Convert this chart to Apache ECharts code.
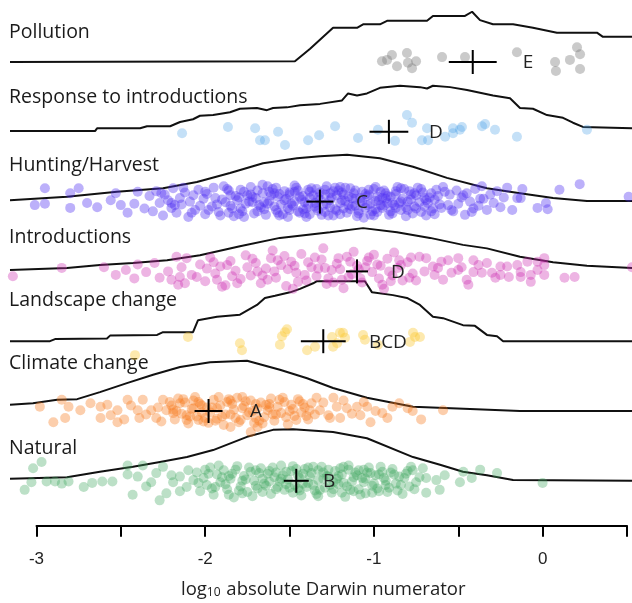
<!DOCTYPE html>
<html>
<head>
<meta charset="utf-8">
<script src="https://cdn.jsdelivr.net/npm/echarts@6/dist/echarts.min.js"></script>
<style>
  html, body { margin: 0; padding: 0; background: #fff; }
  #chart { width: 632px; height: 603px; }
</style>
</head>
<body>
<div id="chart"></div>
<script>
var chart = echarts.init(document.getElementById('chart'));

// categories, top to bottom
var categories = ['Pollution', 'Response to introductions', 'Hunting/Harvest', 'Introductions',
                  'Landscape change', 'Climate change', 'Natural'];

// group letters and means with half widths of the cross
var letters = ['E', 'D', 'C', 'D', 'BCD', 'A', 'B'];
var means = [-0.414, -0.911, -1.32, -1.10, -1.30, -1.98, -1.46];
var halfWidths = [0.142, 0.115, 0.08, 0.065, 0.133, 0.083, 0.074];
var letterX = [-0.087, -0.632, -1.071, -0.857, -0.917, -1.699, -1.266];

// density outlines: [log10 numerator, height above the row baseline]
var pollutionDensity = [[-3.157,0],[-1.468,0.01],[-1.378,0.19],[-1.242,0.49],[-1.100,0.49],[-1.064,0.54],[-0.964,0.54],
  [-0.922,0.59],[-0.685,0.59],[-0.650,0.66],[-0.460,0.66],[-0.418,0.72],[-0.371,0.60],[-0.294,0.54],[-0.175,0.54],
  [-0.057,0.49],[0.085,0.42],[0.322,0.42],[0.358,0.36],[0.530,0.36]];
var responseDensity = [[-3.157,0.01],[-2.653,0.01],[-2.641,0.05],[-2.386,0.05],[-2.345,0.08],[-2.208,0.08],[-2.149,0.14],
  [-2.072,0.18],[-2.031,0.23],[-1.953,0.24],[-1.853,0.28],[-1.794,0.33],[-1.693,0.34],[-1.634,0.31],[-1.598,0.34],
  [-1.515,0.35],[-1.438,0.38],[-1.319,0.40],[-1.189,0.45],[-1.153,0.55],[-1.100,0.52],[-1.041,0.55],[-0.964,0.63],
  [-0.845,0.66],[-0.727,0.64],[-0.685,0.62],[-0.650,0.66],[-0.549,0.64],[-0.448,0.60],[-0.294,0.52],[-0.193,0.48],
  [-0.134,0.34],[-0.057,0.33],[0.026,0.24],[0.121,0.20],[0.180,0.13],[0.239,0.07],[0.530,0.05]];
var huntingDensity = [[-3.157,0.02],[-2.819,0.07],[-2.523,0.14],[-2.250,0.19],[-2.049,0.28],[-1.853,0.41],[-1.657,0.55],
  [-1.456,0.62],[-1.319,0.65],[-1.159,0.67],[-0.964,0.62],[-0.768,0.50],[-0.567,0.34],[-0.330,0.19],[-0.134,0.12],
  [0.062,0.05],[0.263,0.01],[0.530,0.01]];
var introDensity = [[-3.157,0.02],[-2.819,0.05],[-2.624,0.09],[-2.428,0.12],[-2.226,0.16],[-2.031,0.23],[-1.794,0.36],
  [-1.557,0.48],[-1.260,0.56],[-1.064,0.62],[-0.863,0.56],[-0.667,0.48],[-0.472,0.38],[-0.330,0.33],[-0.134,0.21],
  [0.062,0.13],[0.263,0.08],[0.530,0.05]];
var landscapeDensity = [[-3.157,0],[-2.920,0],[-2.890,0.03],[-2.582,0.04],[-2.564,0.08],[-2.285,0.09],[-2.250,0.13],
  [-2.072,0.13],[-2.043,0.30],[-1.930,0.35],[-1.794,0.38],[-1.693,0.52],[-1.646,0.62],[-1.586,0.65],[-1.497,0.70],
  [-1.438,0.75],[-1.360,0.83],[-1.337,0.86],[-1.053,0.86],[-1.011,0.70],[-0.887,0.66],[-0.804,0.62],[-0.727,0.52],
  [-0.650,0.35],[-0.590,0.33],[-0.472,0.23],[-0.401,0.22],[-0.330,0.09],[-0.270,0.07],[-0.234,0],[0.530,0]];
var climateDensity = [[-3.157,0.09],[-3.021,0.11],[-2.878,0.16],[-2.759,0.17],[-2.624,0.27],[-2.464,0.40],[-2.309,0.52],
  [-2.149,0.63],[-1.971,0.70],[-1.752,0.72],[-1.557,0.59],[-1.396,0.47],[-1.242,0.33],[-1.041,0.19],[-0.768,0.06],
  [-0.430,0.03],[-0.134,0],[0.530,0]];
var naturalDensity = [[-3.157,0.03],[-2.819,0.05],[-2.624,0.13],[-2.428,0.20],[-2.268,0.27],[-2.108,0.34],[-1.953,0.44],
  [-1.752,0.63],[-1.598,0.73],[-1.479,0.74],[-1.242,0.70],[-1.041,0.61],[-0.768,0.34],[-0.608,0.23],[-0.472,0.13],
  [-0.330,0.08],[-0.175,0.01],[0.530,0]];

// observations: [log10 numerator, vertical jitter]
var pollutionPts = [[-0.952,0.01],[-0.922,0.03],[-0.893,0.10],[-0.863,-0.06],[-0.804,0.13],[-0.798,-0.01],[-0.774,-0.09],
  [-0.750,0.01],[-0.596,0.07],[-0.460,0.07],[-0.152,0.14],[0.074,0.00],[0.079,-0.13],[0.162,0.03],[0.204,0.21],
  [0.222,0.11],[0.222,-0.10]];
var responsePts = [[-2.137,-0.02],[-1.865,0.07],[-1.704,0.05],[-1.675,-0.12],[-1.646,-0.12],[-1.568,0.00],[-1.527,-0.19],
  [-1.390,-0.12],[-1.325,-0.05],[-1.230,0.08],[-1.094,-0.09],[-0.976,0.03],[-0.875,-0.13],[-0.804,0.24],[-0.774,0.13],
  [-0.715,-0.12],[-0.679,-0.12],[-0.685,0.05],[-0.578,-0.07],[-0.531,0.05],[-0.531,-0.02],[-0.490,0.03],[-0.478,0.07],
  [-0.359,0.08],[-0.341,0.11],[-0.282,0.03],[-0.152,-0.07],[0.263,0.03]];
var huntingPts = [[-2.95,0.19],[-3.01,-0.05],[-2.95,-0.03],[-2.80,0.12],[-2.80,-0.09],[-2.75,0.19],[-2.70,-0.02],
  [-2.64,-0.08],[-2.56,0.02],[-2.53,0.12],[-2.50,-0.05],[-2.46,-0.16],
  [-2.33,0.08],[-2.31,-0.14],[-2.29,0.15],[-2.27,-0.02],[-2.25,-0.2],[-2.24,0.1],[-2.22,0.02],[-2.2,-0.09],[-2.19,0.19],
  [-2.17,-0.16],[-2.15,0.05],[-2.14,-0.04],[-2.12,0.13],[-2.1,-0.22],[-2.09,0.0],[-2.07,0.09],[-2.06,-0.12],[-2.04,0.17],
  [-2.03,-0.06],[-2.01,0.04],[-2.0,-0.18],[-2.36,-0.1],[-2.4,0.14],[-2.42,-0.03],
  [-1.99,0.11],[-1.96,-0.07],[-1.95,0.2],[-1.92,-0.15],[-1.9,0.03],[-1.88,-0.01],[-1.86,0.16],[-1.83,-0.21],[-1.82,0.08],
  [-1.79,-0.1],[-1.77,0.14],[-1.76,-0.03],[-1.73,0.21],[-1.71,-0.17],[-1.7,0.05],[-1.67,-0.08],[-1.66,0.12],[-1.64,-0.19],
  [-1.62,0.01],[-1.6,0.18],[-1.58,-0.12],[-1.57,0.07],[-1.55,-0.04],[-1.53,0.15],[-1.51,-0.22],[-1.5,0.1],[-1.48,-0.06],
  [-1.46,0.2],[-1.45,-0.14],[-1.43,0.03],[-1.41,-0.01],[-1.39,0.17],[-1.38,-0.18],[-1.36,0.09],[-1.34,-0.09],[-1.32,0.13],
  [-1.3,-0.05],[-1.28,0.22],[-1.27,-0.2],[-1.25,0.06],[-1.23,-0.11],[-1.21,0.16],[-1.2,-0.02],[-1.18,0.1],[-1.16,-0.16],
  [-1.14,0.19],[-1.13,-0.07],[-1.11,0.04],[-1.09,-0.13],[-1.07,0.14],[-1.06,-0.23],[-1.04,0.08],[-1.02,-0.03],[-1.0,0.18],
  [-0.98,-0.15],[-0.97,0.02],[-0.95,-0.09],[-0.93,0.12],[-0.91,-0.19],[-0.9,0.07],[-0.88,-0.05],[-0.86,0.21],[-0.84,-0.12],
  [-0.83,0.04],[-0.81,-0.08],[-0.79,0.15],[-0.77,-0.17],[-0.75,0.09],[-0.73,-0.01],[-0.71,0.13],[-0.69,-0.2],[-0.67,0.06],
  [-0.65,-0.1],[-0.63,0.17],[-0.61,-0.04],
  [-1.98,-0.12],[-1.94,0.05],[-1.91,-0.2],[-1.87,0.18],[-1.85,-0.06],[-1.81,0.02],[-1.78,-0.14],[-1.75,0.09],[-1.72,-0.01],
  [-1.69,0.16],[-1.65,-0.11],[-1.63,0.22],[-1.59,-0.07],[-1.56,0.11],[-1.54,-0.18],[-1.52,0.04],[-1.49,-0.03],[-1.47,0.14],
  [-1.44,-0.16],[-1.42,0.08],[-1.4,-0.1],[-1.37,0.19],[-1.35,-0.02],[-1.33,0.06],[-1.31,-0.19],[-1.29,0.1],[-1.26,-0.08],
  [-1.24,0.15],[-1.22,-0.13],[-1.19,0.02],[-1.17,0.2],[-1.15,-0.05],[-1.12,0.12],[-1.1,-0.21],[-1.08,0.05],[-1.05,-0.09],
  [-1.03,0.17],[-1.01,-0.14],[-0.99,0.01],[-0.96,0.14],[-0.94,-0.06],[-0.92,0.08],[-0.89,-0.17],[-0.87,0.11],[-0.85,-0.02],
  [-0.82,0.18],[-0.8,-0.12],[-0.78,0.03],[-0.76,-0.07],[-0.74,0.2],[-0.72,-0.15],[-0.7,0.05],[-0.68,-0.02],[-0.66,0.12],
  [-0.64,-0.18],[-0.62,0.08],[-0.6,-0.09],[-0.58,0.14],[-0.56,-0.05],
  [-1.74,0.0],[-1.68,-0.05],[-1.61,0.09],[-1.57,-0.16],[-1.5,0.13],[-1.47,0.0],[-1.42,-0.11],[-1.38,0.05],[-1.33,-0.13],
  [-1.29,0.17],[-1.26,0.02],[-1.22,0.09],[-1.18,-0.1],[-1.15,0.07],[-1.11,-0.06],[-1.07,0.0],[-1.03,0.1],[-0.99,-0.11],
  [-0.95,0.05],[-0.92,-0.02],[-1.85,0.09],[-1.8,-0.18],[-1.62,0.14],[-1.4,-0.22],[-1.2,0.21],[-1.0,-0.2],[-0.87,-0.09],
  [-1.89,0.22],[-1.84,-0.1],[-1.8,0.06],[-1.77,-0.22],[-1.73,0.1],[-1.69,-0.14],[-1.66,0.24],[-1.63,-0.03],[-1.59,0.12],
  [-1.56,-0.2],[-1.53,0.02],[-1.5,-0.12],[-1.47,0.23],[-1.44,0.07],[-1.41,-0.17],[-1.38,0.14],[-1.35,-0.07],[-1.32,0.03],
  [-1.29,-0.15],[-1.26,0.12],[-1.23,0.2],[-1.2,-0.18],[-1.17,0.01],[-1.14,-0.11],[-1.11,0.16],[-1.08,-0.01],[-1.05,0.11],
  [-1.02,-0.19],[-0.99,0.21],[-0.96,-0.05],[-0.93,0.04],[-0.9,-0.14],[-0.87,0.15],[-0.84,0.0],[-0.81,-0.21],[-0.78,0.1],
  [-0.75,-0.1],[-0.72,0.18],[-0.69,0.02],[-0.66,-0.14],
  [-2.0,0.14],[-1.93,-0.04],[-1.86,-0.16],[-1.79,0.17],[-1.72,0.07],[-1.65,-0.01],[-1.58,0.2],[-1.51,-0.09],[-1.45,0.16],
  [-1.39,-0.04],[-1.34,0.18],[-1.28,-0.03],[-1.24,-0.2],[-1.19,0.13],[-1.13,0.05],[-1.09,-0.17],[-1.04,-0.05],[-0.98,0.07],
  [-0.94,0.16],[-0.89,-0.02],[-0.84,0.19],[-0.8,0.0],[-0.76,0.12],[-0.7,-0.07],[-0.64,0.03],[-0.59,0.21],[-0.54,-0.12],
  [-0.47,0.09],[-0.42,-0.15],[-0.37,0.04],[-2.2,-0.02],[-2.13,0.2],[-2.08,-0.16],[-2.26,0.12],[-2.18,-0.05],
  [-0.55,0.1],[-0.53,-0.14],[-0.51,0.16],[-0.5,-0.03],[-0.48,0.06],[-0.46,-0.19],[-0.45,0.12],[-0.43,0.0],[-0.41,-0.1],
  [-0.4,0.18],[-0.38,-0.06],[-0.36,0.22],[-0.35,0.04],[-0.33,-0.12],[-0.31,0.1],[-0.29,-0.02],[-0.27,0.15],[-0.25,-0.08],
  [-0.23,0.06],[-0.21,0.2],[-0.15,0.05],[-0.13,0.05],[-0.12,0.18],[-0.03,-0.09],[0.02,-0.02],[0.03,-0.11],[0.10,0.17],
  [0.22,0.25],[0.51,0.07],[-0.18,-0.12]];
var introPts = [[-3.14,-0.07],[-2.85,0.05],[-2.6,0.06],[-2.53,-0.05],[-2.47,0.02],[-2.42,-0.1],[-2.35,-0.01],[-2.3,0.12],
  [-2.27,-0.09],[-2.22,0.0],[-2.17,0.21],[-2.14,0.06],[-2.15,-0.08],[-2.16,-0.19],[-2.12,-0.17],[-2.11,0.19],[-2.08,-0.05],
  [-2.05,-0.08],
  [-2.03,0.1],[-2.0,-0.14],[-1.97,0.2],[-1.94,-0.03],[-1.91,0.07],[-1.88,-0.2],[-1.85,0.15],[-1.82,0.01],[-1.79,-0.11],
  [-1.76,0.23],[-1.73,-0.06],[-1.7,0.12],[-1.67,-0.17],[-1.64,0.04],[-1.61,0.19],[-1.58,-0.09],[-1.55,0.09],[-1.52,-0.21],
  [-1.49,0.14],[-1.46,-0.02],[-1.43,0.25],[-1.4,-0.13],[-1.37,0.06],[-1.34,-0.07],[-1.31,0.17],[-1.28,-0.18],[-1.25,0.02],
  [-1.22,0.11],[-1.19,-0.12],[-1.16,0.21],[-1.13,-0.04],[-1.1,0.08],[-1.07,-0.16],[-1.04,0.15],[-1.01,-0.01],[-0.98,0.1],
  [-0.95,-0.19],[-0.92,0.18],[-0.89,-0.06],[-0.86,0.05],[-0.83,-0.13],[-0.8,0.13],[-0.77,-0.03],
  [-1.99,0.04],[-1.93,-0.12],[-1.87,0.09],[-1.81,-0.17],[-1.75,0.06],[-1.69,0.0],[-1.63,-0.12],[-1.57,0.16],[-1.51,0.03],
  [-1.45,-0.15],[-1.39,0.13],[-1.33,0.04],[-1.27,-0.1],[-1.21,0.19],[-1.15,-0.08],[-1.09,0.03],[-1.03,0.2],[-0.97,-0.1],
  [-0.91,0.0],[-0.85,0.16],[-0.79,-0.09],[-1.6,0.3],[-1.3,0.33],[-1.12,0.28],[-0.88,0.27],[-1.48,-0.25],[-1.18,-0.24],
  [-0.94,-0.25],
  [-1.95,0.13],[-1.84,-0.07],[-1.72,0.18],[-1.66,-0.06],[-1.59,0.0],[-1.53,0.22],[-1.47,0.08],[-1.41,-0.05],[-1.35,0.2],
  [-1.29,0.05],[-1.24,-0.16],[-1.2,0.03],[-1.14,0.14],[-1.08,-0.1],[-1.05,0.06],[-1.0,0.24],[-0.96,0.08],[-0.9,-0.14],
  [-0.84,0.09],[-0.78,0.2],[-0.75,-0.13],[-0.7,0.0],[-0.6,0.14],[-0.48,0.06],[-0.33,0.12],[-2.2,-0.12],[-2.4,0.1],[-1.9,-0.22],
  [-0.73,0.21],[-0.69,0.19],[-0.65,0.07],[-0.62,0.05],[-0.64,-0.05],[-0.59,-0.12],[-0.56,0.16],[-0.54,-0.02],[-0.50,0.19],
  [-0.50,0.02],[-0.45,-0.12],[-0.44,-0.19],[-0.41,0.16],[-0.41,-0.01],[-0.38,0.09],[-0.36,-0.02],[-0.30,-0.02],[-0.28,-0.09],
  [-0.25,0.07],[-0.25,-0.05],[-0.21,0.07],[-0.20,-0.08],[-0.15,0.09],[-0.13,-0.01],[-0.13,-0.08],[-0.09,0.14],[-0.07,-0.05],
  [-0.07,-0.15],[-0.03,0.14],[-0.03,0.02],[0.01,0.19],[0.01,0.09],[0.01,-0.05],[0.13,-0.09],[0.19,-0.08],[0.53,0.06]];
var landscapePts = [[-2.416,-0.20],[-2.102,0.06],[-1.794,-0.03],[-1.782,-0.13],[-1.557,-0.05],[-1.545,0.07],[-1.527,0.13],
  [-1.515,0.17],[-1.396,-0.13],[-1.349,-0.08],[-1.248,0.06],[-1.218,-0.03],[-1.201,0.12],[-1.183,0.12],[-1.242,-0.08],
  [-1.171,0.05],[-1.064,0.09],[-1.053,0.02],[-0.976,-0.05],[-0.786,-0.01],[-0.768,0.12],[-0.756,0.06],[-0.727,0.06]];
var climatePts = [[-2.98,0.06],[-2.90,-0.16],[-2.85,0.16],[-2.83,-0.1],[-2.81,0.06],[-2.74,0.01],[-2.68,0.11],[-2.62,0.06],
  [-2.62,-0.1],[-2.58,0.09],[-2.56,-0.06],[-2.52,0.01],[-2.52,-0.16],[-2.46,0.16],[-2.40,0.01],[-2.39,-0.1],[-2.37,0.16],
  [-2.32,0.01],[-2.29,-0.1],[-2.25,0.16],[-2.23,0.01],[-2.19,-0.03],[-2.15,0.11],[-2.11,-0.06],[-2.07,0.04],[-2.04,-0.13],
  [-2.28,0.05],[-2.35,-0.05],[-2.44,0.08],[-2.48,-0.12],[-2.26,-0.15],[-2.21,0.13],
  [-2.2,0.08],[-2.18,-0.12],[-2.16,0.18],[-2.14,-0.04],[-2.12,0.12],[-2.1,-0.18],[-2.08,0.03],[-2.06,0.2],[-2.05,-0.08],
  [-2.03,0.1],[-2.01,-0.15],[-1.99,0.05],[-1.97,-0.02],[-1.95,0.16],[-1.93,-0.11],[-1.91,0.08],[-1.89,-0.2],[-1.87,0.13],
  [-1.85,-0.05],[-1.83,0.02],[-1.81,0.19],[-1.79,-0.13],[-1.77,0.07],[-1.75,-0.06],[-1.73,0.15],[-1.71,-0.17],[-1.69,0.04],
  [-1.67,0.12],[-1.65,-0.09],[-1.63,0.01],[-1.61,0.18],[-1.59,-0.14],[-1.57,0.06],[-1.55,-0.03],[-1.53,0.13],[-1.51,-0.19],
  [-1.49,0.09],[-1.47,-0.07],[-1.45,0.17],[-1.43,-0.02],[-1.41,0.05],[-1.39,-0.12],[-1.37,0.11],[-1.35,-0.05],
  [-2.19,0.02],[-2.13,0.17],[-2.09,-0.08],[-2.04,0.13],[-2.0,-0.1],[-1.96,0.05],[-1.92,0.2],[-1.88,-0.05],[-1.84,0.1],
  [-1.8,-0.16],[-1.76,0.14],[-1.72,0.0],[-1.68,-0.14],[-1.64,0.09],[-1.6,-0.05],[-1.56,0.16],[-1.52,-0.09],[-1.48,0.03],
  [-1.44,0.14],[-1.4,-0.07],[-2.02,-0.02],[-1.94,-0.14],[-1.86,0.17],[-1.78,0.04],[-1.7,-0.1],[-1.62,0.1],
  [-2.17,0.0],[-2.11,-0.13],[-2.07,0.15],[-2.02,0.08],[-1.98,-0.17],[-1.93,0.04],[-1.9,-0.08],[-1.85,0.15],[-1.82,-0.1],
  [-1.78,0.2],[-1.74,-0.02],[-1.7,0.1],[-1.66,-0.18],[-1.62,0.05],[-1.58,-0.05],[-1.54,0.19],[-1.5,0.0],[-1.46,-0.13],
  [-1.42,0.1],[-1.38,0.01],
  [-1.85,-0.23],[-1.73,-0.3],[-1.69,-0.23],
  [-1.34,0.19],[-1.32,0.01],[-1.27,-0.06],[-1.24,0.19],[-1.22,0.06],[-1.20,-0.1],[-1.16,0.04],[-1.10,0.06],[-1.08,-0.06],
  [-1.04,0.06],[-1.02,-0.16],[-0.95,-0.03],[-0.89,0.06],[-0.80,0.04],[-1.3,0.12],[-1.26,-0.1],[-1.18,0.15],[-1.13,-0.04],
  [-1.06,0.13],[-0.99,0.0],[-0.92,-0.1],[-0.85,0.11],[-0.77,0.0],[-0.72,-0.12],[-0.59,0.01]];
var naturalPts = [[-3.02,0.18],[-3.07,-0.13],[-3.03,-0.02],[-2.97,0.27],[-2.94,-0.01],[-2.89,-0.01],[-2.85,-0.04],
  [-2.81,-0.01],[-2.72,-0.09],[-2.67,-0.03],[-2.61,-0.01],[-2.55,-0.01],[-2.46,0.09],[-2.46,0.22],[-2.40,0.06],[-2.43,-0.2],
  [-2.37,0.22],[-2.32,-0.02],[-2.29,0.11],[-2.27,-0.28],[-2.23,-0.18],[-2.19,-0.02],[-2.15,0.06],[-2.11,-0.09],[-2.07,0.01],
  [-2.05,0.12],[-2.03,-0.15],[-2.01,0.04],[-1.99,-0.06],[-1.97,0.19],[-1.95,-0.2],[-1.93,0.09],[-1.91,-0.02],[-1.89,0.15],
  [-1.87,-0.12],[-1.85,0.03],[-1.83,-0.24],[-1.81,0.21],[-1.79,-0.08],[-1.77,0.07],[-1.75,-0.16],[-1.73,0.13],[-1.71,0.0],
  [-1.69,-0.11],[-1.67,0.18],[-1.65,-0.04],[-1.63,0.1],[-1.61,-0.19],[-1.59,0.05],[-1.57,-0.09],[-1.55,0.22],[-1.53,-0.13],
  [-1.51,0.02],[-1.49,0.14],[-1.47,-0.06],[-1.45,0.08],[-1.43,-0.21],[-1.41,0.17],[-1.39,-0.03],[-1.37,0.11],[-1.35,-0.14],
  [-1.33,0.01],[-1.31,0.2],[-1.29,-0.1],[-1.27,0.06],[-1.25,-0.17],[-1.23,0.14],[-1.21,-0.05],[-1.19,0.09],[-1.17,-0.23],
  [-1.15,0.16],[-1.13,-0.01],[-1.11,0.12],[-1.09,-0.12],[-1.07,0.04],[-1.05,-0.18],[-1.03,0.19],[-1.01,-0.07],[-0.99,0.08],
  [-0.97,-0.15],[-0.95,0.13],[-0.93,0.0],[-0.91,-0.1],[-0.89,0.17],[-0.87,-0.04],[-0.85,0.06],[-0.83,-0.19],[-0.81,0.1],
  [-0.79,-0.08],[-0.77,0.15],[-0.75,-0.02],
  [-2.04,-0.03],[-2.0,0.16],[-1.96,-0.11],[-1.92,0.22],[-1.88,-0.05],[-1.84,0.1],[-1.8,-0.14],[-1.76,0.02],[-1.72,-0.22],
  [-1.68,0.11],[-1.64,-0.07],[-1.6,0.19],[-1.56,-0.01],[-1.52,0.13],[-1.48,-0.17],[-1.44,0.04],[-1.4,-0.09],[-1.36,0.2],
  [-1.32,-0.13],[-1.28,0.07],[-1.24,-0.02],[-1.2,0.18],[-1.16,-0.08],[-1.12,0.05],[-1.08,-0.2],[-1.04,0.12],[-1.0,-0.04],
  [-0.96,0.2],[-0.92,-0.16],[-0.88,0.09],[-0.84,-0.06],[-0.8,0.14],[-0.76,-0.12],[-0.73,0.05],
  [-1.86,0.07],[-1.78,-0.18],[-1.7,0.15],[-1.62,-0.01],[-1.58,0.12],[-1.5,-0.1],[-1.46,0.17],[-1.42,-0.04],[-1.38,0.06],
  [-1.34,-0.19],[-1.3,0.12],[-1.26,-0.06],[-1.22,0.03],[-1.18,0.2],[-1.14,-0.13],[-1.1,0.08],[-1.06,-0.02],[-1.02,0.11],
  [-0.98,-0.11],[-0.94,0.04],[-1.66,0.03],[-1.54,0.08],[-1.44,-0.14],[-1.33,0.15],[-1.19,-0.17],[-1.06,0.16],
  [-1.98,0.1],[-1.94,-0.09],[-1.9,0.05],[-1.86,-0.2],[-1.82,0.16],[-1.78,0.0],[-1.74,0.19],[-1.7,-0.07],[-1.66,-0.16],
  [-1.62,0.14],[-1.58,-0.12],[-1.55,0.03],[-1.52,-0.05],[-1.48,0.21],[-1.45,-0.11],[-1.42,0.1],[-1.39,0.19],[-1.36,-0.06],
  [-1.33,-0.22],[-1.3,0.03],[-1.27,0.16],[-1.24,-0.12],[-1.21,0.07],[-1.18,-0.03],[-1.15,0.22],[-1.12,-0.15],[-1.09,0.15],
  [-1.05,0.03],[-1.01,-0.17],[-0.97,0.09],[-0.93,-0.06],[-0.9,0.12],[-0.86,-0.14],[-0.82,0.04],[-0.78,0.2],[-2.1,0.15],
  [-2.15,-0.15],[-2.2,0.08],[-2.25,0.2],[-2.35,-0.08],
  [-0.71,0.18],[-0.69,0.04],[-0.69,-0.17],[-0.63,0.01],[-0.61,-0.13],[-0.58,0.08],[-0.49,-0.02],[-0.47,0.13],[-0.42,0.04],
  [-0.37,0.16],[-0.27,0.11],[0.0,-0.03]];

var densities = [pollutionDensity, responseDensity, huntingDensity, introDensity, landscapeDensity, climateDensity, naturalDensity];
var points = [pollutionPts, responsePts, huntingPts, introPts, landscapePts, climatePts, naturalPts];

var pointColors = ['rgba(123,123,123,0.5)', 'rgba(73,158,230,0.4)', 'rgba(80,50,242,0.48)', 'rgba(205,43,175,0.44)',
                   'rgba(251,199,53,0.5)', 'rgba(246,122,31,0.46)', 'rgba(65,167,95,0.44)'];
// label centres (pixels) for the row names
var labelY = [32, 97, 165, 237, 300, 363, 448];
var FONT = 'Open Sans';

function rowOf(i) { return categories.length - 1 - i; }

var series = [];
densities.forEach(function (d, i) {
    var row = rowOf(i);
    series.push({
        type: 'line',
        data: d.map(function (p) { return [p[0], row + p[1]]; }),
        showSymbol: false,
        clip: false,
        silent: true,
        lineStyle: { color: '#111', width: 2 },
        z: 2
    });
});
points.forEach(function (pts, i) {
    var row = rowOf(i);
    series.push({
        type: 'scatter',
        data: pts.map(function (p) { return [p[0], row + p[1]]; }),
        symbolSize: 10,
        clip: false,
        silent: true,
        itemStyle: { color: pointColors[i] },
        z: 3
    });
});
series.push({
    type: 'custom',
    z: 5,
    silent: true,
    data: categories.map(function (c, i) { return [means[i], halfWidths[i], rowOf(i), letterX[i], i]; }),
    renderItem: function (params, api) {
        var m = api.value(0), hw = api.value(1), row = api.value(2), lx = api.value(3), idx = api.value(4);
        var c = api.coord([m, row]);
        var l = api.coord([m - hw, row]);
        var r = api.coord([m + hw, row]);
        var t = api.coord([lx, row]);
        return {
            type: 'group',
            children: [
                { type: 'line', shape: { x1: l[0], y1: c[1], x2: r[0], y2: c[1] }, style: { stroke: '#000', lineWidth: 2 } },
                { type: 'line', shape: { x1: c[0], y1: c[1] - 12, x2: c[0], y2: c[1] + 12 }, style: { stroke: '#000', lineWidth: 2 } },
                { type: 'text', x: t[0], y: t[1] + 1, style: { text: letters[idx], fill: '#222', font: '19px ' + FONT, align: 'center', verticalAlign: 'middle' } }
            ]
        };
    }
});

var graphics = categories.map(function (c, i) {
    return {
        type: 'text', x: 9, y: labelY[i],
        style: { text: c, fill: '#1a1a1a', font: '19.5px ' + FONT, verticalAlign: 'middle' }
    };
});
graphics.push({
    type: 'text', left: 181, top: 576,
    style: {
        text: 'log{s|10} absolute Darwin numerator',
        fill: '#222', font: '18.5px ' + FONT,
        rich: { s: { fontSize: 12, fontFamily: FONT, fill: '#222', verticalAlign: 'bottom', lineHeight: 14, padding: [11, 1, 0, 0] } }
    }
});

// grid 0 holds the marks (x runs a little past the axis ends), grid 1 draws the axis from -3 to 0.5
var option = {
    animation: false,
    grid: [
        { left: 10, right: 0, top: 27.1, bottom: 87.3 },
        { left: 36.5, right: 5, top: 27.1, bottom: 87.3 }
    ],
    xAxis: [
        { type: 'value', gridIndex: 0, min: -3.157, max: 0.53, show: false },
        {
            type: 'value', gridIndex: 1, min: -3, max: 0.5, interval: 0.5, offset: 10,
            axisLine: { onZero: false, lineStyle: { color: '#000', width: 2 } },
            axisTick: { length: 11, lineStyle: { color: '#000', width: 2 } },
            axisLabel: {
                margin: 25, color: '#222', fontSize: 17, fontFamily: 'Liberation Sans',
                formatter: function (v) { return Math.round(v) === v ? String(v) : ''; }
            },
            splitLine: { show: false }
        }
    ],
    yAxis: [
        { type: 'value', gridIndex: 0, min: -0.5, max: 6.5, show: false },
        { type: 'value', gridIndex: 1, min: -0.5, max: 6.5, show: false }
    ],
    graphic: graphics,
    series: series
};
chart.setOption(option);
</script>
</body>
</html>
